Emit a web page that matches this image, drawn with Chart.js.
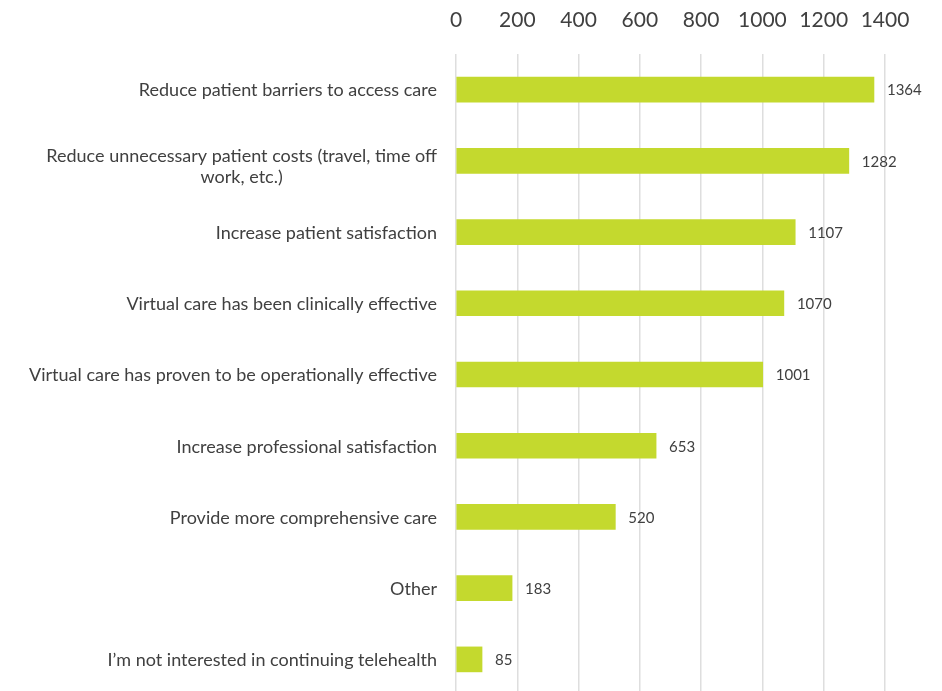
<!DOCTYPE html>
<html>
<head>
<meta charset="utf-8">
<script src="https://cdn.jsdelivr.net/npm/chart.js@4/dist/chart.umd.min.js"></script>
<style>
  html, body { margin: 0; padding: 0; background: #ffffff; overflow: hidden; }
  #wrap { width: 942px; height: 696px; position: relative; }
</style>
</head>
<body>
<div id="wrap"><canvas id="c"></canvas></div>
<script>
const categories = [
  ["Reduce patient barriers to access care"],
  ["Reduce unnecessary patient costs (travel, time off", "work, etc.)"],
  ["Increase patient satisfaction"],
  ["Virtual care has been clinically effective"],
  ["Virtual care has proven to be operationally effective"],
  ["Increase professional satisfaction"],
  ["Provide more comprehensive care"],
  ["Other"],
  ["I\u2019m not interested in continuing telehealth"]
];
const responses = [1364, 1282, 1107, 1070, 1001, 653, 520, 183, 85];
const xTicks = [0, 200, 400, 600, 800, 1000, 1200, 1400];

const TEXT = '#404040';
const FONT = 'Lato, "Open Sans", sans-serif';

const valueLabels = {
  id: 'valueLabels',
  afterDatasetsDraw(chart) {
    const ctx = chart.ctx;
    const meta = chart.getDatasetMeta(0);
    ctx.save();
    ctx.font = '15px ' + FONT;
    ctx.fillStyle = TEXT;
    ctx.textAlign = 'left';
    ctx.textBaseline = 'middle';
    meta.data.forEach((bar, i) => {
      ctx.fillText(String(responses[i]), bar.x + 13, bar.y + 1);
    });
    ctx.restore();
  }
};

const categoryLabels = {
  id: 'categoryLabels',
  afterDraw(chart) {
    const ctx = chart.ctx;
    const ys = chart.scales.y;
    const right = ys.right - 19;
    ctx.save();
    ctx.font = '18px ' + FONT;
    ctx.fillStyle = TEXT;
    ctx.textBaseline = 'middle';
    categories.forEach((lines, i) => {
      const cy = ys.getPixelForValue(i);
      if (lines.length === 1) {
        ctx.textAlign = 'right';
        ctx.fillText(lines[0], right, cy + 1);
      } else {
        const w = Math.max(...lines.map(l => ctx.measureText(l).width));
        const cx = right - w / 2;
        ctx.textAlign = 'center';
        const lh = 21;
        lines.forEach((l, k) => {
          ctx.fillText(l, cx, cy - 5 + k * lh);
        });
      }
    });
    ctx.restore();
  }
};

new Chart(document.getElementById('c'), {
  type: 'bar',
  data: {
    labels: categories,
    datasets: [{
      data: responses,
      backgroundColor: '#c4d92e',
      borderWidth: 0,
      barThickness: 25
    }]
  },
  options: {
    indexAxis: 'y',
    responsive: true,
    maintainAspectRatio: false,
    animation: false,
    layout: { padding: { left: 0, right: 57, top: 0, bottom: 1 } },
    plugins: {
      legend: { display: false },
      tooltip: { enabled: false }
    },
    scales: {
      x: {
        position: 'top',
        min: 0,
        max: 1400,
        afterBuildTicks(scale) {
          scale.ticks = xTicks.map(v => ({ value: v }));
        },
        afterFit(scale) { scale.height = 54; },
        ticks: {
          color: TEXT,
          font: { family: FONT, size: 21 },
          padding: 21,
          maxRotation: 0,
          autoSkip: false,
          callback: (v) => String(v)
        },
        grid: {
          color: '#dedede',
          lineWidth: 1.5,
          drawTicks: false
        },
        border: { display: false }
      },
      y: {
        afterFit(scale) { scale.width = 456; },
        ticks: { display: false },
        grid: { display: false },
        border: { display: false }
      }
    }
  },
  plugins: [valueLabels, categoryLabels]
});
</script>
</body>
</html>
